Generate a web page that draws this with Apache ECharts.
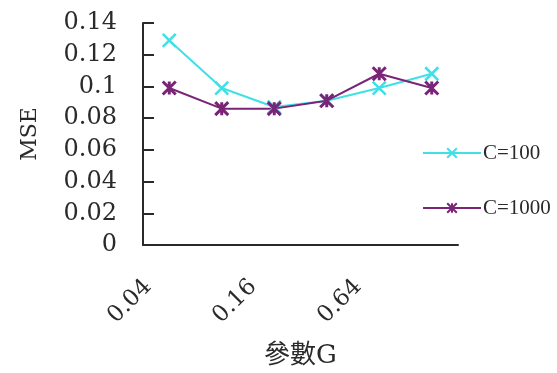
<!DOCTYPE html>
<html>
<head>
<meta charset="utf-8">
<script src="https://cdn.jsdelivr.net/npm/echarts@6/dist/echarts.min.js"></script>
<style>
  html, body { margin: 0; padding: 0; background: #fff; }
  #chart { width: 557px; height: 373px; }
</style>
</head>
<body>
<div id="chart"></div>
<script>
// Parameter G values along the x axis
var gValues = ['0.04', '0.08', '0.16', '0.32', '0.64', '1.28'];
// MSE for each penalty constant C
var mseC100 = [0.129, 0.099, 0.087, 0.091, 0.099, 0.108];
var mseC1000 = [0.099, 0.086, 0.086, 0.091, 0.108, 0.099];
var seriesNames = ['C=100', 'C=1000'];

var serif = "'DejaVu Serif', 'Noto Sans CJK TC', serif";
var times = "'Liberation Serif', 'Times New Roman', serif";
var ink = '#2a2a2a';
var cyan = '#3fe0e6';
var purple = '#7a2478';

var crossPath = 'path://M0,0L10,10M10,0L0,10';
var starPath = 'path://M0,0L10,10M10,0L0,10M5,0L5,10';

var chart = echarts.init(document.getElementById('chart'));
chart.setOption({
  backgroundColor: '#fff',
  animation: false,
  grid: { left: 143, right: 99, top: 23, bottom: 128, outerBoundsMode: 'none', containLabel: false },
  legend: {
    orient: 'vertical',
    left: 422,
    top: 141,
    padding: 0,
    itemWidth: 58,
    itemHeight: 12,
    itemGap: 31,
    textStyle: { fontFamily: times, fontSize: 21, color: ink, lineHeight: 24, padding: [0, 0, 0, -3] },
    data: seriesNames
  },
  xAxis: {
    type: 'category',
    data: gValues,
    boundaryGap: true,
    name: '參數G',
    nameLocation: 'middle',
    nameGap: 98,
    nameTextStyle: { fontFamily: serif, fontSize: 26, color: ink },
    axisLine: { lineStyle: { color: ink, width: 2 } },
    axisTick: { inside: true, length: 10, interval: 0, lineStyle: { color: ink, width: 2 } },
    axisLabel: {
      interval: 1,
      rotate: 45,
      margin: 17,
      padding: [0, 30, 0, 0],
      fontFamily: serif,
      fontSize: 23,
      color: ink
    },
    splitLine: { show: false }
  },
  yAxis: {
    type: 'value',
    min: 0,
    max: 0.14,
    interval: 0.02,
    name: 'MSE',
    nameLocation: 'middle',
    nameRotate: 90,
    nameGap: 102,
    nameTextStyle: { fontFamily: serif, fontSize: 22, color: ink },
    axisLine: { show: true, lineStyle: { color: ink, width: 2 } },
    axisTick: { show: true, inside: true, length: 11, lineStyle: { color: ink, width: 2 } },
    axisLabel: { margin: 26, fontFamily: serif, fontSize: 24, color: ink },
    splitLine: { show: false }
  },
  series: [
    {
      name: seriesNames[0],
      type: 'line',
      data: mseC100,
      symbol: crossPath,
      symbolSize: 13,
      color: cyan,
      lineStyle: { color: cyan, width: 2 },
      itemStyle: { color: cyan, borderColor: cyan, borderWidth: 2.5 }
    },
    {
      name: seriesNames[1],
      type: 'line',
      data: mseC1000,
      symbol: starPath,
      symbolSize: 13,
      color: purple,
      lineStyle: { color: purple, width: 2 },
      itemStyle: { color: purple, borderColor: purple, borderWidth: 3 }
    }
  ]
});
</script>
</body>
</html>
